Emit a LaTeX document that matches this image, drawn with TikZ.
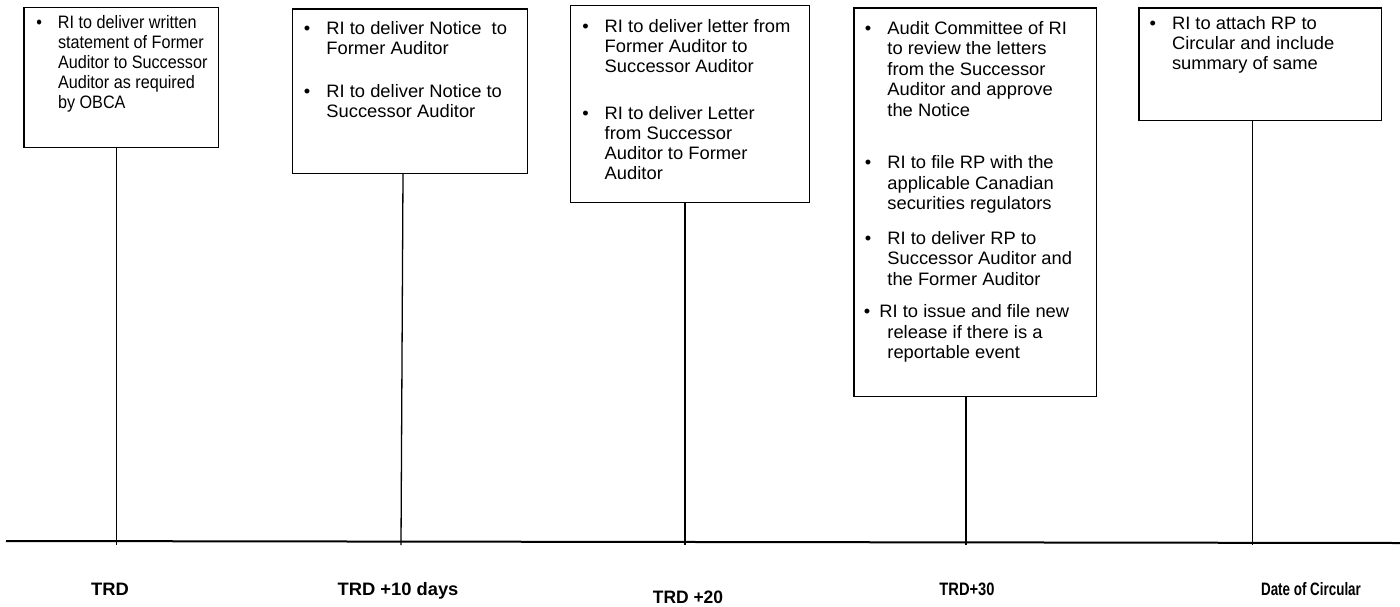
\documentclass[tikz,border=0pt]{standalone}
\usepackage{fontspec}
\usepackage{graphicx}
\setmainfont[FakeStretch=1.02]{Liberation Sans}
\newfontfamily\condfont[FakeStretch=0.9]{Liberation Sans}
\newcommand\bl{\leavevmode\llap{\textbullet\hspace{16pt}}}
\newcommand\bll{\leavevmode\hspace{-8pt}\llap{\textbullet\hspace{9pt}}}
\newcommand\gap[1]{\par\vspace{#1pt}}
% width, height, left indent, first-baseline, baselineskip, font switch, content
\newcommand\boxtext[7]{\parbox[t][#2pt][t]{#1pt}{#6\fontsize{18}{#5}\selectfont\raggedright\leftskip=#3pt\relax\parskip=0pt\rule{0pt}{#4pt}#7}}
\tikzset{
  box/.style={draw, line width=1.4pt, anchor=north west, inner sep=0pt, align=left},
  conn/.style={line width=1.3pt},
  tline/.style={line width=2pt},
  lab/.style={font=\bfseries\fontsize{18}{20}\selectfont, anchor=base, inner sep=0pt},
}
\begin{document}
\begin{tikzpicture}[x=1pt,y=-1pt]
\useasboundingbox (0,0) rectangle (1400,606);
% boxes
\node[box] (b1) at (23.3,6.7) {\boxtext{194.7}{140}{34}{21.5}{20}{\condfont}{%
\bl RI to deliver written\\statement of Former\\Auditor to Successor\\Auditor as required\\by OBCA}};
\node[box] (b2) at (291.7,8.3) {\boxtext{235.3}{164.4}{34}{25}{20}{}{%
\bl RI to deliver Notice\ \ to\\Former Auditor\gap{23}
\bl RI to deliver Notice to\\Successor Auditor}};
\node[box] (b3) at (570,5) {\boxtext{239}{197}{34}{26.5}{20}{}{%
\bl RI to deliver letter from\\Former Auditor to\\Successor Auditor\gap{27}
\bl RI to deliver Letter\\from Successor\\Auditor to Former\\Auditor}};
\node[box] (b4) at (853.3,7.3) {\boxtext{242.7}{388.4}{33.4}{26}{20.5}{}{%
\bl Audit Committee of RI\\to review the letters\\from the Successor\\Auditor and approve\\the Notice\gap{32}
\bl RI to file RP with the\\applicable Canadian\\securities regulators\gap{14}
\bl RI to deliver RP to\\Successor Auditor and\\the Former Auditor\gap{12}
\bll RI to issue and file new\\release if there is a\\reportable event}};
\node[box] (b5) at (1138.3,7.3) {\boxtext{242.7}{112.7}{33}{21}{20}{}{%
\bl RI to attach RP to\\Circular and include\\summary of same}};
% timeline
\coordinate (L) at (6,541);
\coordinate (R) at (1400,543);
\draw[tline] (L) -- (R);
% tick ends
\coordinate (t1) at (116.7,545);
\coordinate (t2) at (401,545);
\coordinate (t3) at (685,545);
\coordinate (t4) at (966,545);
\coordinate (t5) at (1252.7,545);
\coordinate (u2) at (403,0);
\draw[conn] (b1.south -| t1) -- (t1);
\draw[conn] (b2.south -| u2) -- (t2);
\draw[conn] (b3.south -| t3) -- (t3);
\draw[conn] (b4.south -| t4) -- (t4);
\draw[conn] (b5.south -| t5) -- (t5);
% labels
\node[lab] (l1) at (110,595) {TRD};
\node[lab] (l2) at (398,595) {TRD +10 days};
\node[lab] (l3) at (688,603) {\scalebox{0.95}[1]{TRD +20}};
\node[lab] (l4) at (967,595) {\scalebox{0.8}[1]{TRD+30}};
\node[lab] (l5) at (1311,595) {\scalebox{0.73}[1]{Date of Circular}};
\end{tikzpicture}
\end{document}
